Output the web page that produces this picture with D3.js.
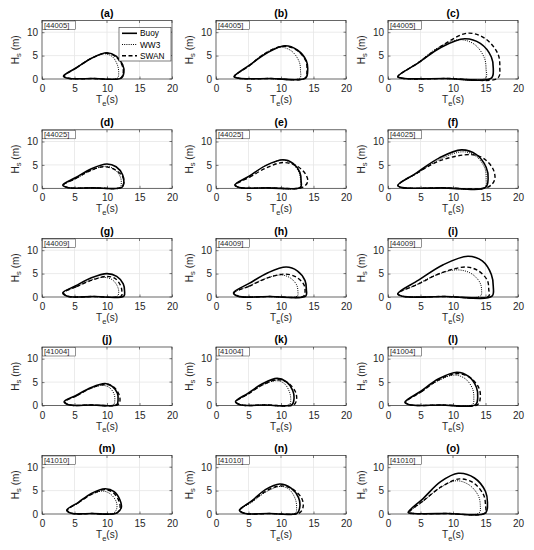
<!DOCTYPE html>
<html><head><meta charset="utf-8">
<script src="https://cdn.jsdelivr.net/npm/d3@7/dist/d3.min.js"></script>
<style>
html,body{margin:0;padding:0;background:#fff;}
svg{display:block;font-family:"Liberation Sans",Arial,sans-serif;}
</style></head>
<body><svg id="chart" width="534" height="550"></svg>
<script>
const panelLabels = ['(a)','(b)','(c)','(d)','(e)','(f)','(g)','(h)','(i)','(j)','(k)','(l)','(m)','(n)','(o)'];
const stations = ['[44005]','[44005]','[44005]','[44025]','[44025]','[44025]','[44009]','[44009]','[44009]','[41004]','[41004]','[41004]','[41010]','[41010]','[41010]'];
const xTicks = [0,5,10,15,20];
const yTicks = [0,5,10];
const seriesNames = ['Buoy','WW3','SWAN'];

// contour points (Te [s], Hs [m])
const buoy = [
 [[3.3,0.6],[5.3,2.4],[7.7,4.5],[10,5.6],[11.4,4.9],[12.4,3.1],[12.6,1.4],[12.2,0.2],[7.8,0.1],[4.0,0.15]],
 [[2.8,0.5],[5.1,2.9],[7.9,5.6],[10.6,7.1],[12.5,6.2],[13.9,3.9],[14.1,1.8],[13.8,0.2],[8.3,0.1],[3.5,0.15]],
 [[1.5,0.5],[4.6,3.4],[8.2,6.8],[11.8,8.6],[14.2,7.6],[15.9,4.7],[16.2,2.2],[15.9,0.2],[8.7,0.1],[2.2,0.15]],
 [[3.2,0.7],[5.2,2.3],[7.6,4.2],[10,5.2],[11.4,4.6],[12.4,2.9],[12.6,1.3],[12.3,0.2],[7.8,0.1],[3.9,0.15]],
 [[2.9,0.7],[5.1,2.6],[7.7,4.9],[10.3,6.1],[11.8,5.4],[12.9,3.4],[13.1,1.5],[13.0,0.2],[8.0,0.1],[3.6,0.15]],
 [[1.5,0.6],[4.4,3.3],[7.9,6.5],[11.3,8.2],[13.6,7.2],[15.1,4.5],[15.4,2.1],[15.0,0.2],[8.3,0.1],[2.2,0.15]],
 [[3.2,0.9],[5.2,2.4],[7.6,4.1],[10,5.0],[11.5,4.4],[12.5,2.8],[12.7,1.3],[12.6,0.2],[7.9,0.1],[3.9,0.15]],
 [[2.7,0.9],[5.1,2.9],[8.0,5.2],[10.8,6.4],[12.5,5.6],[13.7,3.5],[13.9,1.6],[13.8,0.2],[8.3,0.1],[3.4,0.15]],
 [[1.5,0.7],[4.7,3.6],[8.5,6.9],[12.3,8.7],[14.5,7.7],[15.9,4.8],[16.2,2.2],[16.0,0.2],[8.8,0.1],[2.2,0.15]],
 [[3.4,0.8],[5.3,2.2],[7.5,3.8],[9.7,4.7],[10.8,4.1],[11.6,2.6],[11.7,1.2],[11.5,0.2],[7.5,0.1],[4.1,0.15]],
 [[3.0,0.8],[4.9,2.6],[7.2,4.7],[9.4,5.8],[10.8,5.1],[11.8,3.2],[12.0,1.5],[11.7,0.2],[7.4,0.1],[3.7,0.15]],
 [[2.6,0.7],[5.0,3.0],[7.8,5.7],[10.6,7.1],[12.4,6.2],[13.6,3.9],[13.8,1.8],[13.5,0.2],[8.1,0.1],[3.3,0.15]],
 [[3.8,0.8],[5.6,2.5],[7.6,4.4],[9.7,5.4],[11.1,4.8],[12.0,3.0],[12.2,1.4],[11.5,0.2],[7.7,0.1],[4.5,0.15]],
 [[3.6,0.8],[5.5,2.8],[7.6,5.2],[9.8,6.4],[11.5,5.6],[12.7,3.5],[12.9,1.6],[12.5,0.2],[8.1,0.1],[4.3,0.15]],
 [[3.1,0.3],[5.4,3.3],[8.1,6.9],[10.8,8.7],[13.3,7.7],[15.0,4.8],[15.3,2.2],[15.0,0.2],[9.1,0.1],[3.8,0.12]]
];
const ww3 = [
 [[3.4,0.6],[5.2,2.3],[7.4,4.3],[9.5,5.4],[10.8,4.8],[11.6,3.0],[11.8,1.4],[11.6,0.2],[7.5,0.1],[4.1,0.15]],
 [[2.9,0.5],[5.0,2.8],[7.4,5.4],[9.8,6.8],[11.6,6.0],[12.8,3.7],[13.0,1.7],[12.9,0.2],[7.9,0.1],[3.6,0.15]],
 [[1.5,0.5],[4.4,3.3],[7.7,6.7],[11.0,8.4],[13.3,7.4],[14.8,4.6],[15.1,2.1],[15.0,0.2],[8.3,0.1],[2.2,0.15]],
 [[3.3,0.7],[5.3,2.1],[7.5,3.8],[9.8,4.7],[11.1,4.1],[12.0,2.6],[12.2,1.2],[12.0,0.2],[7.7,0.1],[4.0,0.15]],
 [[2.9,0.7],[5.1,2.6],[7.6,4.8],[10.2,6.0],[11.7,5.3],[12.8,3.3],[13.0,1.5],[12.9,0.2],[7.9,0.1],[3.6,0.15]],
 [[1.5,0.6],[4.5,3.2],[8.0,6.2],[11.5,7.8],[13.5,6.9],[14.9,4.3],[15.1,2.0],[14.9,0.2],[8.2,0.1],[2.2,0.15]],
 [[3.3,0.9],[5.2,2.1],[7.3,3.5],[9.5,4.2],[10.8,3.7],[11.6,2.3],[11.8,1.1],[11.6,0.2],[7.5,0.1],[4.0,0.15]],
 [[2.8,0.9],[5.0,2.3],[7.5,3.9],[10.0,4.7],[11.4,4.1],[12.4,2.6],[12.6,1.2],[12.5,0.2],[7.7,0.1],[3.5,0.15]],
 [[1.5,0.7],[4.2,2.5],[7.4,4.7],[10.5,5.8],[12.7,5.1],[14.1,3.2],[14.4,1.5],[14.2,0.2],[7.9,0.1],[2.2,0.15]],
 [[3.5,0.8],[5.2,2.1],[7.3,3.5],[9.3,4.3],[10.4,3.8],[11.1,2.4],[11.2,1.1],[11.0,0.2],[7.3,0.1],[4.2,0.15]],
 [[3.1,0.8],[4.9,2.4],[7.1,4.3],[9.2,5.3],[10.5,4.7],[11.3,2.9],[11.5,1.3],[11.3,0.2],[7.2,0.1],[3.8,0.15]],
 [[2.7,0.7],[5.0,2.8],[7.6,5.2],[10.2,6.5],[11.9,5.7],[13.0,3.6],[13.2,1.6],[13.0,0.2],[7.9,0.1],[3.4,0.15]],
 [[3.9,0.8],[5.5,2.3],[7.4,4.0],[9.3,4.9],[10.5,4.3],[11.4,2.7],[11.5,1.2],[11.0,0.2],[7.5,0.1],[4.6,0.15]],
 [[3.7,0.8],[5.6,2.6],[7.8,4.8],[10.0,5.9],[11.3,5.2],[12.2,3.2],[12.4,1.5],[12.2,0.2],[8.0,0.1],[4.4,0.15]],
 [[3.3,0.3],[5.5,2.8],[8.0,5.6],[10.5,7.1],[12.5,6.2],[13.9,3.9],[14.2,1.8],[14.0,0.2],[8.7,0.1],[4.0,0.12]]
];
const swan = [
 [[3.4,0.6],[5.3,2.4],[7.6,4.4],[9.8,5.5],[11.3,4.8],[12.3,3.0],[12.5,1.4],[12.1,0.2],[7.8,0.1],[4.1,0.15]],
 [[2.8,0.5],[5.1,2.8],[7.7,5.6],[10.4,7.0],[12.4,6.2],[13.8,3.9],[14.0,1.8],[13.7,0.2],[8.3,0.1],[3.5,0.15]],
 [[1.5,0.5],[4.7,3.5],[8.5,7.3],[12.3,9.8],[15.0,8.6],[16.9,5.4],[17.2,2.5],[16.9,0.2],[9.2,0.1],[2.2,0.15]],
 [[3.3,0.7],[5.2,2.1],[7.3,3.7],[9.5,4.6],[11.2,4.0],[12.4,2.5],[12.6,1.2],[12.2,0.2],[7.8,0.1],[4.0,0.15]],
 [[3.0,0.7],[5.2,2.4],[7.8,4.4],[10.3,5.5],[12.4,4.8],[13.8,3.0],[14.1,1.4],[13.3,0.2],[8.2,0.1],[3.7,0.15]],
 [[1.5,0.6],[4.4,3.2],[8.0,5.9],[12.8,7.2],[14.8,6.3],[16.2,4.0],[16.4,1.8],[15.3,0.2],[8.4,0.1],[2.2,0.15]],
 [[3.3,0.9],[5.3,2.2],[7.7,3.6],[10.0,4.4],[11.3,3.9],[12.1,2.4],[12.3,1.1],[12.2,0.2],[7.8,0.1],[4.0,0.15]],
 [[2.8,0.9],[5.1,2.3],[7.8,4.0],[10.5,4.9],[12.3,4.3],[13.5,2.7],[13.7,1.2],[13.5,0.2],[8.2,0.1],[3.5,0.15]],
 [[1.5,0.7],[4.7,2.8],[8.3,5.2],[12.0,6.4],[13.9,5.6],[15.3,3.5],[15.5,1.6],[15.5,0.2],[8.5,0.1],[2.2,0.15]],
 [[3.5,0.8],[5.4,2.1],[7.5,3.7],[9.7,4.5],[11.0,4.0],[11.8,2.5],[12.0,1.1],[11.7,0.2],[7.6,0.1],[4.2,0.15]],
 [[3.1,0.8],[5.0,2.5],[7.3,4.5],[9.5,5.5],[11.1,4.8],[12.2,3.0],[12.4,1.4],[12.0,0.2],[7.6,0.1],[3.8,0.15]],
 [[2.7,0.7],[5.1,2.9],[7.8,5.5],[10.6,6.8],[12.6,6.0],[14.0,3.7],[14.2,1.7],[13.8,0.2],[8.3,0.1],[3.4,0.15]],
 [[3.9,0.8],[5.6,2.4],[7.6,4.2],[9.6,5.2],[10.9,4.6],[11.8,2.9],[12.0,1.3],[11.5,0.2],[7.7,0.1],[4.6,0.15]],
 [[3.7,0.8],[5.5,2.7],[7.7,4.9],[9.8,6.0],[11.8,5.3],[13.2,3.3],[13.4,1.5],[12.8,0.2],[8.3,0.1],[4.4,0.15]],
 [[3.2,0.3],[5.5,2.9],[8.3,5.9],[11.0,7.5],[13.2,6.6],[14.7,4.1],[15.0,1.9],[14.9,0.2],[9.1,0.1],[3.9,0.12]]
];

const styles = {
  Buoy: {w:1.6, dash:null},
  WW3:  {w:1.0, dash:'1,1.2'},
  SWAN: {w:1.4, dash:'4,2.5'}
};
const seriesData = {Buoy: buoy, WW3: ww3, SWAN: swan};

const svg = d3.select('#chart');
const colX = [42, 216, 388];
const rowBottom = [79, 188.3, 297, 405.5, 514];
const W = 130, H = 58.5;

const x = d3.scaleLinear().domain([0,20]).range([0, W]);
const y = d3.scaleLinear().domain([0,12.5]).range([H, 0]);
const line = d3.line().x(d=>x(d[0])).y(d=>y(d[1])).curve(d3.curveCatmullRomClosed.alpha(0.5));

panelLabels.forEach((lab, i) => {
  const r = Math.floor(i/3), c = i%3;
  const g = svg.append('g').attr('transform', `translate(${colX[c]},${rowBottom[r]-H})`);
  g.append('rect').attr('width',W).attr('height',H).attr('fill','#fff');
  // grid
  g.selectAll('.gx').data(xTicks.slice(1,-1)).enter().append('line')
    .attr('x1',d=>x(d)).attr('x2',d=>x(d)).attr('y1',0).attr('y2',H)
    .attr('stroke','#e6e6e6').attr('stroke-width',0.8);
  g.selectAll('.gy').data(yTicks.slice(1)).enter().append('line')
    .attr('x1',0).attr('x2',W).attr('y1',d=>y(d)).attr('y2',d=>y(d))
    .attr('stroke','#e6e6e6').attr('stroke-width',0.8);
  // axes
  const xa = d3.axisBottom(x).tickValues(xTicks).tickSize(-2.5).tickPadding(4);
  const ya = d3.axisLeft(y).tickValues(yTicks).tickSize(-2.5).tickPadding(4);
  const gx = g.append('g').attr('transform',`translate(0,${H})`).call(xa);
  const gy = g.append('g').call(ya);
  [gx, gy].forEach(a => {
    a.select('.domain').remove();
    a.selectAll('line').attr('stroke','#262626').attr('stroke-width',0.6);
    a.selectAll('text').attr('fill','#262626').attr('font-size',10).attr('font-family','"Liberation Sans",Arial,sans-serif');
  });
  gx.selectAll('text').attr('dy','0.9em');
  g.selectAll('.tt').data(xTicks).enter().append('line')
    .attr('x1',d=>x(d)).attr('x2',d=>x(d)).attr('y1',0).attr('y2',2.5).attr('stroke','#262626').attr('stroke-width',0.6);
  g.selectAll('.rt').data(yTicks).enter().append('line')
    .attr('x1',W).attr('x2',W-2.5).attr('y1',d=>y(d)).attr('y2',d=>y(d)).attr('stroke','#262626').attr('stroke-width',0.6);
  // box
  g.append('rect').attr('width',W).attr('height',H).attr('fill','none').attr('stroke','#262626').attr('stroke-width',0.7);
  // curves
  const cg = g.append('g');
  seriesNames.slice().reverse().forEach(s => {
    const st = styles[s];
    cg.append('path').attr('d', line(seriesData[s][i]))
      .attr('fill','none').attr('stroke','#000').attr('stroke-width',st.w)
      .attr('stroke-dasharray', st.dash).attr('stroke-linejoin','round');
  });
  // station label
  const stg = g.append('g');
  stg.append('rect').attr('x',0.5).attr('y',0.5).attr('width',33).attr('height',8.5)
    .attr('fill','#fff').attr('stroke','#262626').attr('stroke-width',0.5);
  stg.append('text').attr('x',2).attr('y',7.3).attr('font-size',7.6).attr('fill','#262626').text(stations[i]);
  // title
  g.append('text').attr('x',W/2).attr('y',-4).attr('text-anchor','middle')
    .attr('font-size',10.5).attr('font-weight','bold').attr('fill','#000').text(lab);
  // x label
  const xl = g.append('text').attr('x',W/2).attr('y',H+24).attr('text-anchor','middle')
    .attr('font-size',10).attr('fill','#262626');
  xl.append('tspan').text('T');
  xl.append('tspan').attr('font-size',7.5).attr('dy',2.5).text('e');
  xl.append('tspan').attr('dy',-2.5).text('(s)');
  // y label
  const yl = g.append('text').attr('transform',`translate(-23.5,${H/2}) rotate(-90)`).attr('text-anchor','middle')
    .attr('font-size',10).attr('fill','#262626');
  yl.append('tspan').text('H');
  yl.append('tspan').attr('font-size',7.5).attr('dy',2.5).text('s');
  yl.append('tspan').attr('dy',-2.5).text(' (m)');

  if (i === 0) {
    const lg = g.append('g').attr('transform','translate(77,7)');
    lg.append('rect').attr('width',52).attr('height',33.5).attr('fill','#fff')
      .attr('stroke','#262626').attr('stroke-width',0.6);
    seriesNames.forEach((s, k) => {
      const yy = 5.8 + k*11.2;
      lg.append('line').attr('x1',3).attr('x2',18).attr('y1',yy).attr('y2',yy)
        .attr('stroke','#000').attr('stroke-width',styles[s].w).attr('stroke-dasharray',styles[s].dash);
      lg.append('text').attr('x',21).attr('y',yy+3).attr('font-size',8.3).attr('fill','#000').text(s);
    });
  }
});
</script></body></html>
